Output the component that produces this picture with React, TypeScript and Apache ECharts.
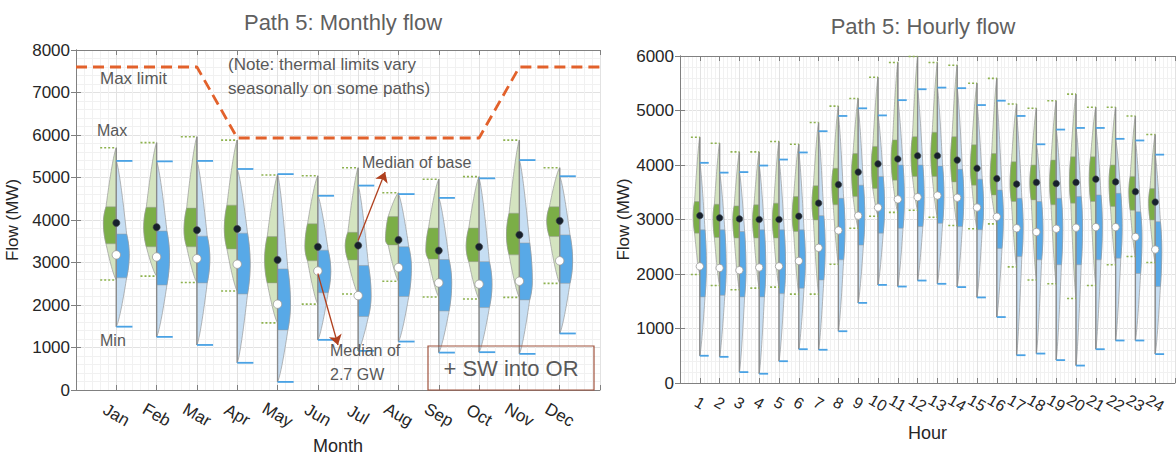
import React, { useEffect, useRef } from "react";
import * as echarts from "echarts";

// ---------- Monthly (left) ----------
const months = ["Jan", "Feb", "Mar", "Apr", "May", "Jun", "Jul", "Aug", "Sep", "Oct", "Nov", "Dec"];
const monthGMin = [2590, 2680, 2530, 2330, 1580, 2020, 2260, 2560, 2190, 2140, 2180, 2510];
const monthGQ1 = [3440, 3370, 3370, 3320, 2520, 3040, 3060, 3410, 3080, 3020, 3180, 3610];
const monthGMed = [3930, 3830, 3760, 3790, 3060, 3370, 3400, 3530, 3280, 3370, 3650, 3980];
const monthGQ3 = [4310, 4300, 4280, 4350, 3610, 3910, 3710, 4080, 3810, 3810, 4160, 4310];
const monthGMax = [5700, 5820, 5960, 5880, 5060, 5040, 5230, 4640, 4960, 5020, 5880, 5230];
const monthBMin = [1490, 1250, 1060, 640, 190, 1180, 920, 1140, 880, 890, 850, 1330];
const monthBQ1 = [2640, 2470, 2520, 2260, 1410, 2290, 1730, 2200, 1860, 1940, 2120, 2510];
const monthBMed = [3180, 3130, 3090, 2960, 2020, 2800, 2220, 2880, 2520, 2490, 2560, 3040];
const monthBQ3 = [3670, 3740, 3620, 3690, 2850, 3290, 2930, 3370, 3070, 3020, 3460, 3650];
const monthBMax = [5390, 5380, 5390, 5200, 5080, 4570, 4810, 4610, 4520, 4980, 5410, 5030];

// thermal max limit (x in month index, y in MW)
const limitX = [0, 3, 4, 10, 11, 13];
const limitY = [7600, 7600, 5930, 5930, 7600, 7600];

// annotation arrows (data coords)
const arrowBase = [[7, 3520], [7.67, 5130]];
const arrowAlt = [[6, 2740], [6.5, 1060]];

// ---------- Hourly (right) ----------
const hours = ["1", "2", "3", "4", "5", "6", "7", "8", "9", "10", "11", "12", "13", "14", "15", "16", "17", "18", "19", "20", "21", "22", "23", "24"];
const hourGMin = [1990, 1790, 1710, 1740, 1760, 1630, 1630, 2180, 2840, 3060, 3130, 3170, 3040, 2890, 2830, 2920, 2130, 1890, 1820, 1550, 1790, 2170, 2320, 2210];
const hourGQ1 = [2750, 2670, 2660, 2660, 2660, 2780, 2990, 3270, 3420, 3570, 3720, 3790, 3790, 3690, 3630, 3450, 3330, 3360, 3270, 3300, 3330, 3240, 3170, 2990];
const hourGMed = [3070, 3030, 3010, 3000, 3000, 3060, 3300, 3640, 3870, 4020, 4110, 4170, 4170, 4090, 3940, 3750, 3650, 3680, 3660, 3680, 3740, 3690, 3510, 3320];
const hourGQ3 = [3330, 3280, 3250, 3270, 3300, 3420, 3620, 3940, 4210, 4340, 4460, 4520, 4600, 4520, 4370, 4210, 4060, 4000, 4090, 4150, 4150, 4000, 3790, 3570];
const hourGMax = [4510, 4400, 4240, 4240, 4430, 4380, 4780, 5080, 5220, 5610, 5880, 5990, 5880, 5830, 5500, 5590, 5120, 5040, 5180, 5300, 5060, 5060, 4900, 4560];
const hourBMin = [500, 480, 200, 170, 400, 620, 610, 950, 1470, 1800, 1770, 1880, 1820, 1760, 1570, 1210, 510, 540, 420, 320, 620, 780, 780, 530];
const hourBQ1 = [1580, 1610, 1580, 1580, 1640, 1740, 1890, 2260, 2530, 2750, 2840, 2870, 2930, 2870, 2810, 2470, 2320, 2260, 2170, 2170, 2260, 2290, 2010, 1770];
const hourBMed = [2140, 2110, 2070, 2120, 2140, 2240, 2480, 2800, 3070, 3220, 3370, 3410, 3440, 3400, 3220, 3050, 2840, 2770, 2830, 2850, 2860, 2860, 2680, 2450];
const hourBQ3 = [2810, 2810, 2780, 2810, 2810, 2810, 3070, 3390, 3630, 3790, 4000, 4000, 3980, 3920, 3740, 3540, 3390, 3330, 3390, 3420, 3450, 3480, 3140, 2960];
const hourBMax = [4040, 3860, 3870, 3990, 4100, 4230, 4620, 4900, 5040, 4910, 5190, 5390, 5420, 5410, 5100, 5180, 4900, 4380, 4650, 4680, 4680, 4480, 4450, 4190];

const FONT = "'Liberation Sans', Arial, sans-serif";
const C = {
  lightGreen: "#D4E4C0",
  darkGreen: "#7BAE47",
  lightBlue: "#C6DEF3",
  darkBlue: "#58A9E7",
  outline: "#9A9A9A",
  center: "#8A8A8A",
  greenMark: "#8DB24E",
  blueMark: "#4AA2E4",
  dot: "#16202C",
  axis: "#808080",
  text: "#595959",
  label: "#262626",
};

function widthAt(v: number, mn: number, q1: number, md: number, q3: number, mx: number) {
  if (v >= q1 && v <= q3) {
    const t = v >= md ? (q3 > md ? (v - md) / (q3 - md) : 0) : md > q1 ? (md - v) / (md - q1) : 0;
    return 1 - 0.2 * t * t;
  }
  if (v > q3) return mx > q3 ? 0.8 * Math.pow(Math.max(0, (mx - v) / (mx - q3)), 0.75) : 0;
  return q1 > mn ? 0.8 * Math.pow(Math.max(0, (v - mn) / (q1 - mn)), 0.75) : 0;
}

function makeRender(peakUnits: number, markUnits: number, rBlack: number, rWhite: number) {
  return function (params: any, api: any) {
    const x = api.value(0);
    const gmn = api.value(1), gq1 = api.value(2), gmd = api.value(3), gq3 = api.value(4), gmx = api.value(5);
    const bmn = api.value(6), bq1 = api.value(7), bmd = api.value(8), bq3 = api.value(9), bmx = api.value(10);
    const unit = api.size([1, 0])[0];
    const peak = peakUnits * unit;
    const mark = markUnits * unit;
    const cx = api.coord([x, 0])[0];
    const Y = (val: number) => api.coord([x, val])[1];
    const shape = (mn: number, q1: number, md: number, q3: number, mx: number, lo: number, hi: number, sign: number) => {
      const vals: number[] = [];
      const N = 50;
      for (let k = 0; k <= N; k++) vals.push(lo + ((hi - lo) * k) / N);
      if (q1 > lo && q1 < hi) vals.push(q1);
      if (q3 > lo && q3 < hi) vals.push(q3);
      vals.sort((a, b) => a - b);
      const pts: number[][] = vals.map((val) => [cx + sign * peak * widthAt(val, mn, q1, md, q3, mx), Y(val)]);
      pts.push([cx, Y(hi)]);
      pts.push([cx, Y(lo)]);
      return pts;
    };
    const top = Math.max(gmx, bmx);
    const bot = Math.min(gmn, bmn);
    return {
      type: "group",
      children: [
        { type: "polygon", shape: { points: shape(gmn, gq1, gmd, gq3, gmx, gmn, gmx, -1) }, style: { fill: C.lightGreen, stroke: C.outline, lineWidth: 0.7 } },
        { type: "polygon", shape: { points: shape(gmn, gq1, gmd, gq3, gmx, gq1, gq3, -1) }, style: { fill: C.darkGreen, stroke: C.outline, lineWidth: 0.5 } },
        { type: "polygon", shape: { points: shape(bmn, bq1, bmd, bq3, bmx, bmn, bmx, 1) }, style: { fill: C.lightBlue, stroke: C.outline, lineWidth: 0.7 } },
        { type: "polygon", shape: { points: shape(bmn, bq1, bmd, bq3, bmx, bq1, bq3, 1) }, style: { fill: C.darkBlue, stroke: C.outline, lineWidth: 0.5 } },
        { type: "line", shape: { x1: cx, y1: Y(top), x2: cx, y2: Y(bot) }, style: { stroke: C.center, lineWidth: 1.3 } },
        { type: "line", shape: { x1: cx - mark, y1: Y(gmx), x2: cx, y2: Y(gmx) }, style: { stroke: C.greenMark, lineWidth: 1.6, lineDash: [2, 2] } },
        { type: "line", shape: { x1: cx - mark, y1: Y(gmn), x2: cx, y2: Y(gmn) }, style: { stroke: C.greenMark, lineWidth: 1.6, lineDash: [2, 2] } },
        { type: "line", shape: { x1: cx, y1: Y(bmx), x2: cx + mark, y2: Y(bmx) }, style: { stroke: C.blueMark, lineWidth: 1.8 } },
        { type: "line", shape: { x1: cx, y1: Y(bmn), x2: cx + mark, y2: Y(bmn) }, style: { stroke: C.blueMark, lineWidth: 1.8 } },
        { type: "circle", shape: { cx, cy: Y(gmd), r: rBlack }, style: { fill: C.dot, stroke: "#4a4a4a", lineWidth: 0.6 } },
        { type: "circle", shape: { cx, cy: Y(bmd), r: rWhite }, style: { fill: "#ffffff", stroke: "#9a9a9a", lineWidth: 0.8 } },
      ],
    };
  };
}

function axisPair(gridIndex: number, max: number, labels: string[], rotate: number, labelSize: number, labelMargin: number, name: string, nameGap: number) {
  const base = {
    type: "value",
    gridIndex,
    min: 0,
    max,
    interval: 1,
    axisLine: { show: true, onZero: false, lineStyle: { color: C.axis, width: 1 } },
    axisTick: { show: true, inside: true, length: 5, lineStyle: { color: C.axis } },
    minorTick: { show: false, splitNumber: 5 },
  };
  return [
    {
      ...base,
      position: "bottom",
      name,
      nameLocation: "middle",
      nameGap,
      nameTextStyle: { fontSize: 18, color: C.label, fontFamily: FONT },
      axisLabel: {
        show: true,
        rotate,
        align: "center",
        verticalAlign: "middle",
        margin: labelMargin,
        fontSize: labelSize,
        color: C.label,
        fontFamily: FONT,
        formatter: (v: number) => (v >= 1 && v <= labels.length ? labels[v - 1] : ""),
      },
      splitLine: { show: true, lineStyle: { color: "#e2e2e2", width: 1 } },
      minorSplitLine: { show: true, lineStyle: { color: "#f1f1f1", width: 1 } },
    },
    { ...base, position: "top", axisLabel: { show: false }, splitLine: { show: false } },
  ];
}

function yPair(gridIndex: number, max: number, nameGap: number) {
  const base = {
    type: "value",
    gridIndex,
    min: 0,
    max,
    interval: 1000,
    axisLine: { show: true, lineStyle: { color: C.axis, width: 1 } },
    axisTick: { show: true, inside: true, length: 5, lineStyle: { color: C.axis } },
    minorTick: { show: false, splitNumber: 5 },
  };
  return [
    {
      ...base,
      position: "left",
      name: "Flow (MW)",
      nameLocation: "middle",
      nameGap,
      nameRotate: 90,
      nameTextStyle: { fontSize: 17, color: C.label, fontFamily: FONT },
      axisLabel: { show: true, margin: 6, fontSize: 17, color: C.label, fontFamily: FONT, formatter: (v: number) => String(v) },
      splitLine: { show: true, lineStyle: { color: "#e2e2e2", width: 1 } },
      minorSplitLine: { show: true, lineStyle: { color: "#f1f1f1", width: 1 } },
    },
    { ...base, position: "right", axisLabel: { show: false }, splitLine: { show: false } },
  ];
}

export default function App() {
  const ref = useRef<HTMLDivElement>(null);
  useEffect(() => {
    if (!ref.current) return;
    const chart = echarts.init(ref.current, undefined, { renderer: "svg" });

    const monthData = months.map((_, i) => [i + 1, monthGMin[i], monthGQ1[i], monthGMed[i], monthGQ3[i], monthGMax[i], monthBMin[i], monthBQ1[i], monthBMed[i], monthBQ3[i], monthBMax[i]]);
    const hourData = hours.map((_, i) => [i + 1, hourGMin[i], hourGQ1[i], hourGMed[i], hourGQ3[i], hourGMax[i], hourBMin[i], hourBQ1[i], hourBMed[i], hourBQ3[i], hourBMax[i]]);
    const limitData = limitX.map((x, i) => [x, limitY[i]]);

    const txt = (text: string, x: number, y: number, size: number, align = "left") => ({
      type: "text",
      x,
      y,
      silent: true,
      z: 10,
      style: { text, fontSize: size, fontFamily: FONT, fill: C.text, align, verticalAlign: "middle" },
    });

    const option: any = {
      animation: false,
      backgroundColor: "#ffffff",
      title: [
        { text: "Path 5: Monthly flow", left: 338, top: 6, textAlign: "center", textStyle: { fontSize: 22, fontWeight: "normal", color: "#5f5f5f", fontFamily: FONT } },
        { text: "Path 5: Hourly flow", left: 918, top: 10, textAlign: "center", textStyle: { fontSize: 22, fontWeight: "normal", color: "#5f5f5f", fontFamily: FONT } },
      ],
      grid: [
        { left: 76, top: 50, width: 524, height: 340, containLabel: false, outerBoundsMode: "none" },
        { left: 680, top: 56, width: 495, height: 327, containLabel: false, outerBoundsMode: "none" },
      ],
      xAxis: [
        ...axisPair(0, 13, months, -30, 17, 25, "Month", 47),
        ...axisPair(1, 25, hours, -30, 16, 20, "Hour", 41),
      ],
      yAxis: [...yPair(0, 8000, 55), ...yPair(1, 6000, 44)],
      series: [
        {
          type: "line",
          xAxisIndex: 0,
          yAxisIndex: 0,
          data: limitData,
          symbol: "none",
          silent: true,
          lineStyle: { color: "#E2612B", width: 2.8, type: [11, 6] },
          z: 3,
        },
        {
          type: "custom",
          xAxisIndex: 0,
          yAxisIndex: 0,
          data: monthData,
          encode: { x: 0, y: [1, 2, 3, 4, 5, 6, 7, 8, 9, 10] },
          renderItem: makeRender(0.32, 0.4, 3.6, 4.2),
          silent: true,
          z: 4,
        },
        {
          type: "custom",
          xAxisIndex: 2,
          yAxisIndex: 2,
          data: hourData,
          encode: { x: 0, y: [1, 2, 3, 4, 5, 6, 7, 8, 9, 10] },
          renderItem: makeRender(0.33, 0.45, 3.3, 3.7),
          silent: true,
          z: 4,
        },
        {
          type: "lines",
          coordinateSystem: "cartesian2d",
          xAxisIndex: 0,
          yAxisIndex: 0,
          symbol: ["none", "arrow"],
          symbolSize: 10,
          silent: true,
          z: 6,
          lineStyle: { color: "#B0401E", width: 1.3, opacity: 1 },
          data: [{ coords: arrowBase }, { coords: arrowAlt }],
        },
      ],
      graphic: [
        txt("Max limit", 100, 78, 17),
        txt("(Note: thermal limits vary", 228, 64, 17),
        txt("seasonally on some paths)", 228, 88, 17),
        txt("Max", 97, 130, 16),
        txt("Min", 100, 340, 16),
        txt("Median of base", 362, 162, 16),
        txt("Median of", 330, 350, 16),
        txt("2.7 GW", 330, 374, 16),
        {
          type: "rect",
          z: 9,
          silent: true,
          shape: { x: 428, y: 346, width: 166, height: 44 },
          style: { fill: "rgba(255,255,255,0)", stroke: "#A0523C", lineWidth: 1.2 },
        },
        txt("+ SW into OR", 511, 368, 22, "center"),
      ],
    };
    chart.setOption(option);
    return () => chart.dispose();
  }, []);
  return <div ref={ref} style={{ position: "absolute", left: 0, top: 0, width: 1176, height: 458 }} />;
}
